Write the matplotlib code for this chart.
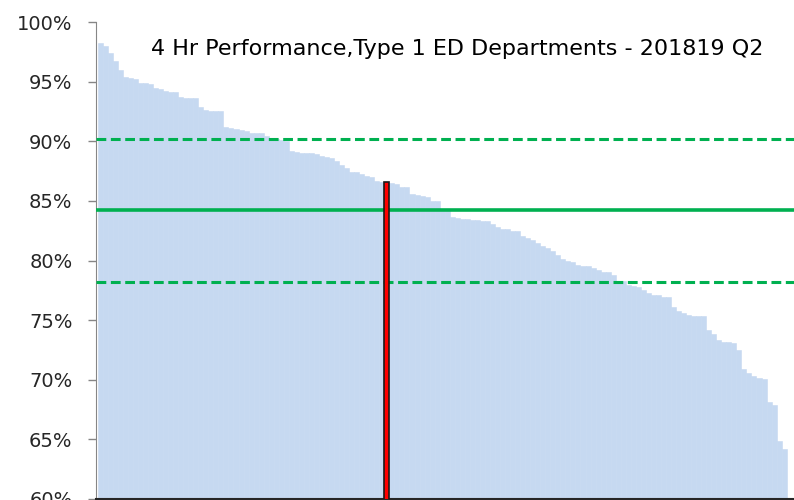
import matplotlib.pyplot as plt
import numpy as np

# 4-hour performance by Type 1 ED, sorted descending (%)
performance = [
    98.2, 98.0, 97.4, 96.7, 96.0, 95.4, 95.3, 95.2, 94.9, 94.85,
    94.8, 94.5, 94.4, 94.2, 94.15, 94.1, 93.7, 93.65, 93.6, 93.6,
    92.85, 92.6, 92.55, 92.5, 92.5, 91.2, 91.1, 91.0, 90.95, 90.9,
    90.7, 90.7, 90.65, 90.45, 90.2, 90.15, 90.1, 90.05, 89.15, 89.1,
    89.05, 89.0, 89.0, 88.95, 88.75, 88.7, 88.6, 88.35, 88.05, 87.75,
    87.45, 87.4, 87.25, 87.05, 87.0, 86.65, 86.6, 86.55, 86.5, 86.4,
    86.2, 86.15, 85.55, 85.5, 85.45, 85.3, 85.0, 84.95, 84.35, 84.3,
    83.65, 83.6, 83.5, 83.45, 83.4, 83.38, 83.35, 83.3, 83.05, 82.85,
    82.65, 82.6, 82.5, 82.45, 82.05, 81.9, 81.75, 81.5, 81.2, 81.05,
    80.8, 80.45, 80.15, 79.95, 79.9, 79.6, 79.55, 79.5, 79.4, 79.2,
    79.05, 79.0, 78.8, 78.3, 78.25, 77.95, 77.9, 77.8, 77.5, 77.26,
    77.12, 77.08, 76.95, 76.92, 76.1, 75.8, 75.6, 75.4, 75.38, 75.36,
    75.35, 74.2, 73.85, 73.35, 73.2, 73.15, 73.1, 72.5, 70.9, 70.6,
    70.3, 70.15, 70.1, 68.1, 67.9, 64.9, 64.2,
]
highlight_index = 57
mean_line = 84.2
upper_line = 90.2
lower_line = 78.2
yticks = [60, 65, 70, 75, 80, 85, 90, 95, 100]
title = "4 Hr Performance,Type 1 ED Departments - 201819 Q2"

values = np.array(performance) / 100
x = np.arange(len(values))

fig = plt.figure(figsize=(7.94, 5.0), dpi=100)
ax = fig.add_axes([96 / 794, 1 / 500, 698 / 794, 477 / 500])

ax.bar(x, values, width=1.0, color="#C6D9F1", edgecolor="#C6D9F1", linewidth=0.4, zorder=1)
ax.bar(x[highlight_index], values[highlight_index], width=1.0, color="#FF0000",
       edgecolor="#1a1a1a", linewidth=1.2, zorder=4)

ax.axhline(mean_line / 100, color="#00B050", linewidth=2.6, zorder=3)
ax.axhline(upper_line / 100, color="#00B050", linewidth=2.2, linestyle=(0, (3.2, 1.5)), zorder=3)
ax.axhline(lower_line / 100, color="#00B050", linewidth=2.2, linestyle=(0, (3.2, 1.5)), zorder=3)

ax.set_xlim(-0.84, 137.96)
ax.set_ylim(0.60, 1.00)
ax.set_yticks([t / 100 for t in yticks])
ax.set_yticklabels([f"{t}%" for t in yticks], fontsize=14, color="#262626",
                   family=["DejaVu Sans"])
ax.set_xticks([])
ax.tick_params(axis="y", direction="out", length=6, width=1, color="#868686", pad=11)

for side in ["top", "right"]:
    ax.spines[side].set_visible(False)
ax.spines["left"].set_color("#868686")
ax.spines["bottom"].set_color("#262626")
ax.spines["bottom"].set_linewidth(1.5)

ax.text(0.079, 0.944, title, transform=ax.transAxes, fontsize=16, color="#000000",
        family=["DejaVu Sans"], va="center", ha="left")

fig.savefig("out.png", dpi=100)
